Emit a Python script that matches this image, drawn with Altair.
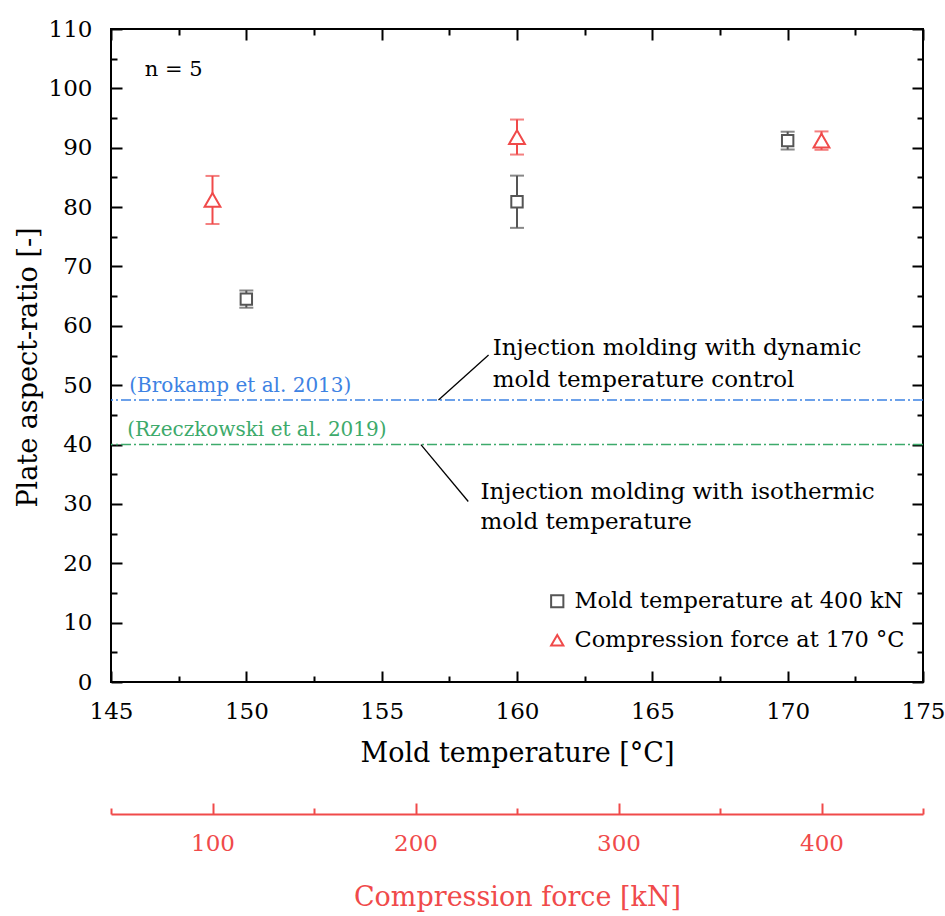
import altair as alt
import pandas as pd

# ---------------- data ----------------
mold_temp = [150, 160, 170]
mold_ratio = [64.5, 80.9, 91.2]
mold_err = [1.45, 4.4, 1.5]

force_kn = [100, 250, 400]
force_ratio = [81.2, 91.8, 91.2]
force_err = [4.05, 2.95, 1.55]

series_names = ["Mold temperature at 400 kN", "Compression force at 170 °C"]
series_colors = ["#555555", "#F04A4A"]
series_shapes = ["square", "triangle-up"]

ref_labels = ["(Brokamp et al. 2013)", "(Rzeczkowski et al. 2019)"]
ref_values = [47.5, 40.0]
ref_colors = ["#3D82E3", "#3DAA6B"]
ref_label_x = [145.67, 145.6]
ref_label_y = [49.9, 42.45]

ann_lines = ["Injection molding with dynamic", "mold temperature control",
             "Injection molding with isothermic", "mold temperature"]
ann_x = [159.1, 159.1, 158.65, 158.65]
ann_y = [56.3, 50.9, 32.0, 27.0]

leader_x1 = [157.1, 156.45]
leader_y1 = [47.5, 40.0]
leader_x2 = [158.95, 158.2]
leader_y2 = [55.1, 30.4]

note_text = ["n = 5"]
note_x = [146.25]
note_y = [103.1]

temp_major = [145, 150, 155, 160, 165, 170, 175]
temp_minor = [147.5, 152.5, 157.5, 162.5, 167.5, 172.5]
ratio_major = [0, 10, 20, 30, 40, 50, 60, 70, 80, 90, 100, 110]
ratio_minor = [5, 15, 25, 35, 45, 55, 65, 75, 85, 95, 105]
force_major = [100, 200, 300, 400]
force_minor = [50, 150, 250, 350, 450]

# ---------------- tables ----------------
sq = pd.DataFrame({"x": mold_temp, "y": mold_ratio, "e": mold_err,
                   "series": series_names[0]})
sq["lo"] = sq["y"] - sq["e"]
sq["hi"] = sq["y"] + sq["e"]
sq_caps = pd.DataFrame({"x": mold_temp + mold_temp,
                        "y": list(sq["lo"]) + list(sq["hi"])})

tr = pd.DataFrame({"x": force_kn, "y": force_ratio, "e": force_err,
                   "series": series_names[1]})
tr["lo"] = tr["y"] - tr["e"]
tr["hi"] = tr["y"] + tr["e"]
tr_caps = pd.DataFrame({"x": force_kn + force_kn,
                        "y": list(tr["lo"]) + list(tr["hi"])})

refs = pd.DataFrame({"label": ref_labels, "v": ref_values,
                     "lx": ref_label_x, "ly": ref_label_y})
leaders = pd.DataFrame({"x1": leader_x1, "y1": leader_y1,
                        "x2": leader_x2, "y2": leader_y2})
ann = pd.DataFrame({"t": ann_lines, "x": ann_x, "y": ann_y})
note = pd.DataFrame({"t": note_text, "x": note_x, "y": note_y})

# ---------------- styling ----------------
FONT = "DejaVu Serif"
RED = series_colors[1]
W, H = 812, 653


def xs():
    return alt.Scale(domain=[145, 175], nice=False, zero=False)


def fs():
    return alt.Scale(domain=[50, 450], nice=False, zero=False)


def ys():
    return alt.Scale(domain=[0, 110], nice=False, zero=False)


def tick_axis(orient, values, size, offset, color="black"):
    return alt.Axis(orient=orient, values=values, tickSize=size, offset=offset,
                    domain=False, labels=False, title=None, grid=False,
                    ticks=True, tickColor=color, tickWidth=2)


ax_x_major = alt.Axis(orient="bottom", values=temp_major, tickSize=11, offset=-11,
                      domain=False, grid=False, tickColor="black", tickWidth=2,
                      labelFont=FONT, labelFontSize=23, labelColor="black",
                      labelPadding=18, labelFlush=False, format="d",
                      title="Mold temperature [°C]", titleFont=FONT,
                      titleFontSize=27, titleFontWeight="normal",
                      titleColor="black", titlePadding=17)
ax_y_major = alt.Axis(orient="left", values=ratio_major, tickSize=11, offset=-11,
                      domain=False, grid=False, tickColor="black", tickWidth=2,
                      labelFont=FONT, labelFontSize=23, labelColor="black",
                      labelPadding=19, labelFlush=False, format="d",
                      title="Plate aspect-ratio [-]", titleFont=FONT,
                      titleFontSize=27, titleFontWeight="normal",
                      titleColor="black", titlePadding=6, titleY=338)
ax_f_line = alt.Axis(orient="bottom", values=force_major, offset=132,
                     domain=True, domainColor=RED, domainWidth=2,
                     ticks=False, tickSize=0, grid=False,
                     labelFont=FONT, labelFontSize=23, labelColor=RED,
                     labelPadding=18, labelFlush=False, format="d",
                     title="Compression force [kN]", titleFont=FONT,
                     titleFontSize=27, titleFontWeight="normal",
                     titleColor=RED, titlePadding=29)

legend = alt.Legend(orient="none", legendX=435, legendY=561, title=None,
                    labelFont=FONT, labelFontSize=22.5, labelColor="black",
                    labelLimit=0,
                    symbolSize=150, symbolStrokeWidth=2, rowPadding=16,
                    labelOffset=6, padding=0)
color_enc = alt.Color("series:N", scale=alt.Scale(domain=series_names,
                                                  range=series_colors),
                      legend=legend)
shape_enc = alt.Shape("series:N", scale=alt.Scale(domain=series_names,
                                                  range=series_shapes),
                      legend=legend)

# ---------------- layers ----------------
sq_stem = alt.Chart(sq).mark_rule(color=series_colors[0], strokeWidth=2).encode(
    x=alt.X("x:Q", scale=xs(), axis=tick_axis("bottom", temp_minor, 6, -6)),
    y=alt.Y("lo:Q", scale=ys(), axis=tick_axis("left", ratio_minor, 6, -6)),
    y2="hi:Q")
sq_cap = alt.Chart(sq_caps).mark_tick(color=series_colors[0], orient="horizontal",
                                      size=14, thickness=2).encode(
    x=alt.X("x:Q", scale=xs(), axis=tick_axis("top", temp_major, 11, -11)),
    y=alt.Y("y:Q", scale=ys(), axis=tick_axis("right", ratio_major, 11, -11)))
sq_pts = alt.Chart(sq).mark_point(filled=False, fill="white", size=130,
                                  strokeWidth=2, opacity=1).encode(
    x=alt.X("x:Q", scale=xs(), axis=ax_x_major),
    y=alt.Y("y:Q", scale=ys(), axis=ax_y_major),
    color=color_enc, shape=shape_enc)

ref_blue = alt.Chart(refs.iloc[[0]]).mark_rule(
    color=ref_colors[0], strokeWidth=1.4, strokeDash=[10, 3, 2, 3]).encode(
    y=alt.Y("v:Q", scale=ys(), axis=tick_axis("right", ratio_minor, 6, -6)))
ref_green = alt.Chart(refs.iloc[[1]]).mark_rule(
    color=ref_colors[1], strokeWidth=1.4, strokeDash=[10, 3, 2, 3]).encode(
    y=alt.Y("v:Q", scale=ys(), axis=None))
ref_txt_blue = alt.Chart(refs.iloc[[0]]).mark_text(
    color=ref_colors[0], font=FONT, fontSize=20, align="left",
    baseline="middle").encode(
    x=alt.X("lx:Q", scale=xs(), axis=tick_axis("top", temp_minor, 6, -6)),
    y=alt.Y("ly:Q", scale=ys(), axis=None), text="label:N")
ref_txt_green = alt.Chart(refs.iloc[[1]]).mark_text(
    color=ref_colors[1], font=FONT, fontSize=20, align="left",
    baseline="middle").encode(
    x=alt.X("lx:Q", scale=xs(), axis=None),
    y=alt.Y("ly:Q", scale=ys(), axis=None), text="label:N")

lead = alt.Chart(leaders).mark_rule(color="black", strokeWidth=1.3).encode(
    x=alt.X("x1:Q", scale=xs(), axis=None), x2="x2:Q",
    y=alt.Y("y1:Q", scale=ys(), axis=None), y2="y2:Q")
ann_txt = alt.Chart(ann).mark_text(color="black", font=FONT, fontSize=23,
                                   align="left", baseline="middle").encode(
    x=alt.X("x:Q", scale=xs(), axis=None),
    y=alt.Y("y:Q", scale=ys(), axis=None), text="t:N")
note_txt = alt.Chart(note).mark_text(color="black", font=FONT, fontSize=21,
                                     align="left", baseline="middle").encode(
    x=alt.X("x:Q", scale=xs(), axis=None),
    y=alt.Y("y:Q", scale=ys(), axis=None), text="t:N")

tr_stem = alt.Chart(tr).mark_rule(color=RED, strokeWidth=2).encode(
    x=alt.X("x:Q", scale=fs(), axis=tick_axis("bottom", force_major, 11, 121, RED)),
    y=alt.Y("lo:Q", scale=ys(), axis=None), y2="hi:Q")
tr_cap = alt.Chart(tr_caps).mark_tick(color=RED, orient="horizontal",
                                      size=14, thickness=2).encode(
    x=alt.X("x:Q", scale=fs(), axis=tick_axis("bottom", force_minor, 6, 126, RED)),
    y=alt.Y("y:Q", scale=ys(), axis=None))
tr_pts = alt.Chart(tr).mark_point(filled=False, fill="white", size=250,
                                  strokeWidth=2, opacity=1).encode(
    x=alt.X("x:Q", scale=fs(), axis=ax_f_line),
    y=alt.Y("y:Q", scale=ys(), axis=None),
    color=color_enc, shape=shape_enc)

chart = alt.layer(
    ref_blue, ref_green, ref_txt_blue, ref_txt_green, lead, ann_txt, note_txt,
    sq_stem, sq_cap, sq_pts, tr_stem, tr_cap, tr_pts
).resolve_scale(
    x="independent", y="independent"
).resolve_axis(
    x="independent", y="independent"
).properties(
    width=W, height=H, autosize="none",
    padding={"left": 111, "top": 29, "right": 22, "bottom": 234},
    background="white"
).configure_view(stroke="black", strokeWidth=2)

chart.save("out.html", embed_options={"renderer": "svg", "actions": False})
